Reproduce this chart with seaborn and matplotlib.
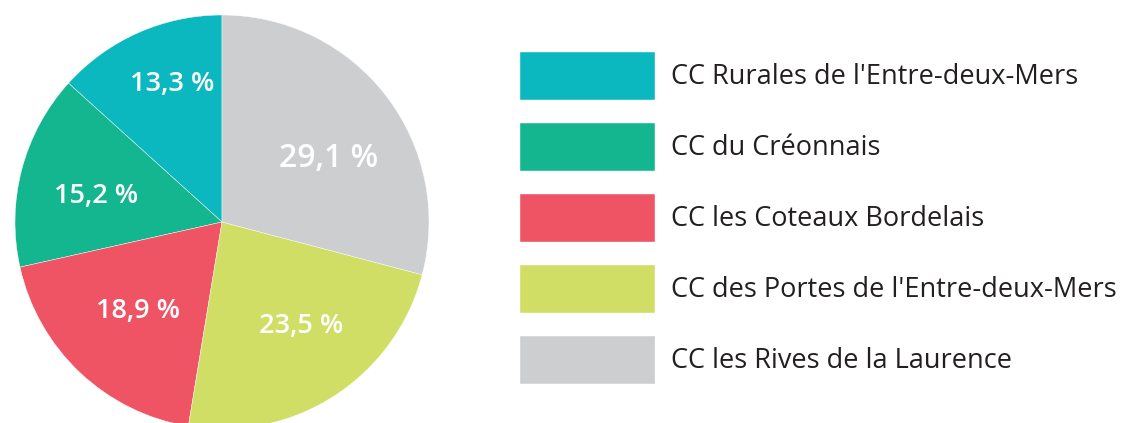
import matplotlib
matplotlib.use("Agg")
import numpy as np
import matplotlib.pyplot as plt
import seaborn as sns

# Données (ordre de la légende)
territoires = [
    "CC Rurales de l'Entre-deux-Mers",
    "CC du Créonnais",
    "CC les Coteaux Bordelais",
    "CC des Portes de l'Entre-deux-Mers",
    "CC les Rives de la Laurence",
]
parts = [13.3, 15.2, 18.9, 23.5, 29.1]
etiquettes = ["13,3 %", "15,2 %", "18,9 %", "23,5 %", "29,1 %"]
couleurs = ["#0BB8BF", "#13B68F", "#EF5465", "#D0DE66", "#CDCED0"]

# petits réglages de placement des étiquettes (distance, décalage angulaire)
dist_etiq = [0.71, 0.62, 0.59, 0.63, 0.60]
decal_etiq = [-4, 3, 0, 4.5, -7]

sns.set_theme(style="white")
plt.rcParams["font.family"] = ["Open Sans", "DejaVu Sans"]
palette = sns.color_palette(couleurs)

W, H = 1123, 423
fig = plt.figure(figsize=(W / 100, H / 100), dpi=100)

# camembert : centre (222, 222), rayon 207 px
cx, cy, r = 222, 222, 207
ax = fig.add_axes([(cx - r) / W, (H - cy - r) / H, 2 * r / W, 2 * r / H])
wedges, _ = ax.pie(parts, colors=palette, startangle=90, counterclock=True,
                   wedgeprops=dict(linewidth=0.3, edgecolor="white"))
ax.set_xlim(-1, 1)
ax.set_ylim(-1, 1)
ax.set_aspect("equal")

# étiquettes en pourcentage
for w, lab, d, da in zip(wedges, etiquettes, dist_etiq, decal_etiq):
    ang = np.deg2rad((w.theta1 + w.theta2) / 2 + da)
    big = lab == "29,1 %"
    ax.text(d * np.cos(ang), d * np.sin(ang), lab, color="white",
            ha="center", va="center", fontsize=23 if big else 19.5,
            fontweight="semibold")

# légende
fs = 19.5
em = fs * 100 / 72
fig.legend(wedges, territoires, loc="upper left",
           bbox_to_anchor=(520 / W, 1 - 52 / H), frameon=False,
           fontsize=fs, labelcolor="#231F20",
           handlelength=135 / em, handleheight=(48 / em - 0.245) / 0.65,
           labelspacing=(71 - 48) / em, handletextpad=16 / em,
           borderpad=0, borderaxespad=0)

fig.savefig("out.png", dpi=100)
